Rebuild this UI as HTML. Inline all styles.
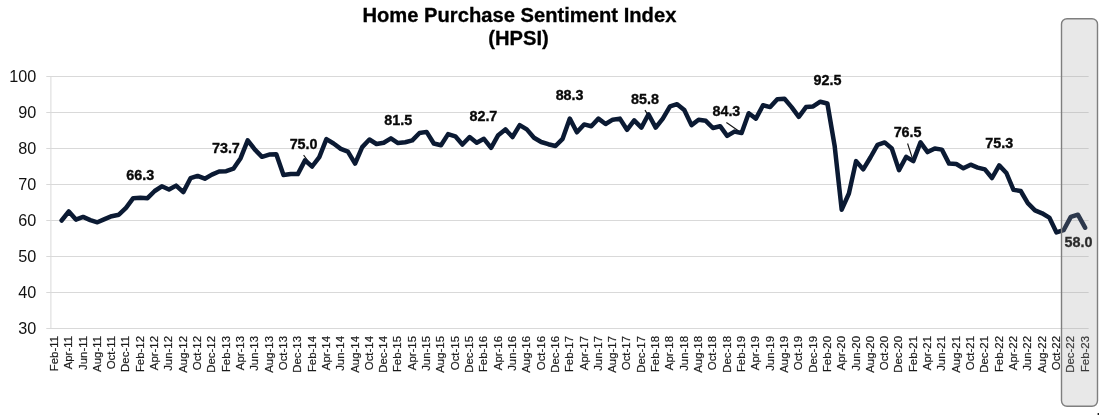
<!DOCTYPE html>
<html><head><meta charset="utf-8"><title>Home Purchase Sentiment Index (HPSI)</title>
<style>
html,body{margin:0;padding:0;background:#fff;}
body{width:1099px;height:415px;overflow:hidden;font-family:"Liberation Sans",Arial,sans-serif;}
svg{display:block}
svg text{font-family:"Liberation Sans",Arial,sans-serif;}
.grid line{stroke:#d9d9d9;stroke-width:1}
.ylab text{font-size:16.4px;fill:#111;text-anchor:end}
.xlab text{font-size:11.4px;fill:#1a1a1a;stroke:#1a1a1a;stroke-width:0.2;text-anchor:end}
.dl text{font-size:15.2px;font-weight:bold;fill:#0a0a0a;stroke:#0a0a0a;stroke-width:0.35;text-anchor:middle}
.lead line{stroke:#111;stroke-width:1.1}
.title text{font-size:20.7px;font-weight:bold;fill:#000;stroke:#000;stroke-width:0.3;text-anchor:middle}
</style></head><body>
<svg width="1099" height="415" viewBox="0 0 1099 415">
<rect width="1099" height="415" fill="#fff"/>
<g class="title"><text transform="translate(519.4,21.7) scale(0.975,1)">Home Purchase Sentiment Index</text><text transform="translate(518.5,44.9) scale(0.975,1)">(HPSI)</text></g>
<g class="grid"><line x1="46.3" x2="1088.6" y1="328.5" y2="328.5"/><line x1="46.3" x2="1088.6" y1="292.5" y2="292.5"/><line x1="46.3" x2="1088.6" y1="256.5" y2="256.5"/><line x1="46.3" x2="1088.6" y1="220.5" y2="220.5"/><line x1="46.3" x2="1088.6" y1="184.5" y2="184.5"/><line x1="46.3" x2="1088.6" y1="148.5" y2="148.5"/><line x1="46.3" x2="1088.6" y1="112.5" y2="112.5"/><line x1="46.3" x2="1088.6" y1="76.5" y2="76.5"/><line x1="50.9" x2="50.9" y1="76.5" y2="328.5"/></g>
<g class="ylab"><text transform="translate(36.3,333.8) scale(0.99,1)">30</text><text transform="translate(36.3,297.8) scale(0.99,1)">40</text><text transform="translate(36.3,261.8) scale(0.99,1)">50</text><text transform="translate(36.3,225.8) scale(0.99,1)">60</text><text transform="translate(36.3,189.8) scale(0.99,1)">70</text><text transform="translate(36.3,153.8) scale(0.99,1)">80</text><text transform="translate(36.3,117.8) scale(0.99,1)">90</text><text transform="translate(36.3,81.8) scale(0.99,1)">100</text></g>
<g class="xlab"><text transform="translate(57.9,336.0) rotate(-90)">Feb-11</text><text transform="translate(72.2,336.0) rotate(-90)">Apr-11</text><text transform="translate(86.5,336.0) rotate(-90)">Jun-11</text><text transform="translate(100.8,336.0) rotate(-90)">Aug-11</text><text transform="translate(115.1,336.0) rotate(-90)">Oct-11</text><text transform="translate(129.4,336.0) rotate(-90)">Dec-11</text><text transform="translate(143.8,336.0) rotate(-90)">Feb-12</text><text transform="translate(158.1,336.0) rotate(-90)">Apr-12</text><text transform="translate(172.4,336.0) rotate(-90)">Jun-12</text><text transform="translate(186.7,336.0) rotate(-90)">Aug-12</text><text transform="translate(201.0,336.0) rotate(-90)">Oct-12</text><text transform="translate(215.3,336.0) rotate(-90)">Dec-12</text><text transform="translate(229.6,336.0) rotate(-90)">Feb-13</text><text transform="translate(244.0,336.0) rotate(-90)">Apr-13</text><text transform="translate(258.3,336.0) rotate(-90)">Jun-13</text><text transform="translate(272.6,336.0) rotate(-90)">Aug-13</text><text transform="translate(286.9,336.0) rotate(-90)">Oct-13</text><text transform="translate(301.2,336.0) rotate(-90)">Dec-13</text><text transform="translate(315.5,336.0) rotate(-90)">Feb-14</text><text transform="translate(329.8,336.0) rotate(-90)">Apr-14</text><text transform="translate(344.2,336.0) rotate(-90)">Jun-14</text><text transform="translate(358.5,336.0) rotate(-90)">Aug-14</text><text transform="translate(372.8,336.0) rotate(-90)">Oct-14</text><text transform="translate(387.1,336.0) rotate(-90)">Dec-14</text><text transform="translate(401.4,336.0) rotate(-90)">Feb-15</text><text transform="translate(415.7,336.0) rotate(-90)">Apr-15</text><text transform="translate(430.0,336.0) rotate(-90)">Jun-15</text><text transform="translate(444.4,336.0) rotate(-90)">Aug-15</text><text transform="translate(458.7,336.0) rotate(-90)">Oct-15</text><text transform="translate(473.0,336.0) rotate(-90)">Dec-15</text><text transform="translate(487.3,336.0) rotate(-90)">Feb-16</text><text transform="translate(501.6,336.0) rotate(-90)">Apr-16</text><text transform="translate(515.9,336.0) rotate(-90)">Jun-16</text><text transform="translate(530.2,336.0) rotate(-90)">Aug-16</text><text transform="translate(544.6,336.0) rotate(-90)">Oct-16</text><text transform="translate(558.9,336.0) rotate(-90)">Dec-16</text><text transform="translate(573.2,336.0) rotate(-90)">Feb-17</text><text transform="translate(587.5,336.0) rotate(-90)">Apr-17</text><text transform="translate(601.8,336.0) rotate(-90)">Jun-17</text><text transform="translate(616.1,336.0) rotate(-90)">Aug-17</text><text transform="translate(630.4,336.0) rotate(-90)">Oct-17</text><text transform="translate(644.8,336.0) rotate(-90)">Dec-17</text><text transform="translate(659.1,336.0) rotate(-90)">Feb-18</text><text transform="translate(673.4,336.0) rotate(-90)">Apr-18</text><text transform="translate(687.7,336.0) rotate(-90)">Jun-18</text><text transform="translate(702.0,336.0) rotate(-90)">Aug-18</text><text transform="translate(716.3,336.0) rotate(-90)">Oct-18</text><text transform="translate(730.6,336.0) rotate(-90)">Dec-18</text><text transform="translate(745.0,336.0) rotate(-90)">Feb-19</text><text transform="translate(759.3,336.0) rotate(-90)">Apr-19</text><text transform="translate(773.6,336.0) rotate(-90)">Jun-19</text><text transform="translate(787.9,336.0) rotate(-90)">Aug-19</text><text transform="translate(802.2,336.0) rotate(-90)">Oct-19</text><text transform="translate(816.5,336.0) rotate(-90)">Dec-19</text><text transform="translate(830.8,336.0) rotate(-90)">Feb-20</text><text transform="translate(845.1,336.0) rotate(-90)">Apr-20</text><text transform="translate(859.5,336.0) rotate(-90)">Jun-20</text><text transform="translate(873.8,336.0) rotate(-90)">Aug-20</text><text transform="translate(888.1,336.0) rotate(-90)">Oct-20</text><text transform="translate(902.4,336.0) rotate(-90)">Dec-20</text><text transform="translate(916.7,336.0) rotate(-90)">Feb-21</text><text transform="translate(931.0,336.0) rotate(-90)">Apr-21</text><text transform="translate(945.3,336.0) rotate(-90)">Jun-21</text><text transform="translate(959.7,336.0) rotate(-90)">Aug-21</text><text transform="translate(974.0,336.0) rotate(-90)">Oct-21</text><text transform="translate(988.3,336.0) rotate(-90)">Dec-21</text><text transform="translate(1002.6,336.0) rotate(-90)">Feb-22</text><text transform="translate(1016.9,336.0) rotate(-90)">Apr-22</text><text transform="translate(1031.2,336.0) rotate(-90)">Jun-22</text><text transform="translate(1045.5,336.0) rotate(-90)">Aug-22</text><text transform="translate(1059.9,336.0) rotate(-90)">Oct-22</text><text transform="translate(1074.2,336.0) rotate(-90)">Dec-22</text><text transform="translate(1088.5,336.0) rotate(-90)">Feb-23</text></g>
<g class="lead"><line x1="303.6" y1="155.1" x2="312.1" y2="166.5"/><line x1="645.0" y1="110.1" x2="655.7" y2="127.6"/><line x1="726.4" y1="122.5" x2="741.6" y2="133.0"/><line x1="907.6" y1="143.5" x2="913.3" y2="161.1"/></g>
<polyline points="61.6,220.5 68.8,211.5 75.9,219.6 83.1,216.9 90.3,220.1 97.4,222.3 104.6,219.1 111.7,216.2 118.9,214.7 126.0,207.9 133.2,198.2 140.4,197.8 147.5,198.2 154.7,191.0 161.8,186.3 169.0,189.5 176.1,185.6 183.3,192.1 190.5,178.2 197.6,175.9 204.8,178.7 211.9,174.6 219.1,171.5 226.2,171.2 233.4,168.7 240.6,158.2 247.7,140.4 254.9,149.6 262.0,156.8 269.2,154.6 276.3,154.3 283.5,175.1 290.7,174.1 297.8,174.1 305.0,160.4 312.1,166.5 319.3,157.1 326.4,139.1 333.6,143.5 340.8,148.9 347.9,151.7 355.1,163.6 362.2,147.1 369.4,139.5 376.5,144.0 383.7,142.7 390.9,138.4 398.0,143.1 405.2,142.2 412.3,140.4 419.5,133.0 426.6,131.9 433.8,143.5 441.0,145.3 448.1,134.1 455.3,136.3 462.4,144.5 469.6,137.0 476.7,142.7 483.9,138.8 491.1,147.8 498.2,135.2 505.4,129.4 512.5,137.0 519.7,125.1 526.8,129.4 534.0,137.7 541.2,142.0 548.3,144.2 555.5,146.0 562.6,138.8 569.8,118.6 576.9,132.3 584.1,124.4 591.3,126.2 598.4,118.6 605.6,124.0 612.7,119.7 619.9,118.6 627.0,129.8 634.2,120.4 641.4,127.6 648.5,114.3 655.7,127.6 662.8,118.6 670.0,106.4 677.1,104.2 684.3,110.0 691.5,125.1 698.6,119.7 705.8,120.8 712.9,128.0 720.1,126.2 727.2,135.9 734.4,131.6 741.6,133.0 748.7,113.2 755.9,118.6 763.0,105.3 770.2,107.1 777.3,99.2 784.5,98.8 791.6,107.1 798.8,116.8 806.0,107.1 813.1,106.4 820.3,101.7 827.4,103.5 834.6,145.6 841.7,209.7 848.9,193.5 856.1,161.1 863.2,169.4 870.4,157.5 877.5,144.9 884.7,142.4 891.8,148.5 899.0,170.1 906.2,156.8 913.3,161.1 920.5,142.4 927.6,152.1 934.8,148.5 941.9,149.6 949.1,163.6 956.3,164.0 963.4,168.3 970.6,164.7 977.7,167.6 984.9,169.4 992.0,178.0 999.2,165.4 1006.4,173.0 1013.5,189.9 1020.7,191.0 1027.8,203.2 1035.0,210.4 1042.1,213.3 1049.3,217.6 1056.5,232.4 1063.6,230.2 1070.8,216.9 1077.9,214.7 1085.1,227.7" fill="none" stroke="#0b1a33" stroke-width="4.5" stroke-linejoin="round" stroke-linecap="round"/>
<g class="dl"><text transform="translate(140.2,180.0) scale(0.945,1)">66.3</text><text transform="translate(225.9,152.7) scale(0.945,1)">73.7</text><text transform="translate(303.6,148.6) scale(0.945,1)">75.0</text><text transform="translate(398.2,124.7) scale(0.945,1)">81.5</text><text transform="translate(483.4,120.8) scale(0.945,1)">82.7</text><text transform="translate(569.6,100.4) scale(0.945,1)">88.3</text><text transform="translate(645.0,103.6) scale(0.945,1)">85.8</text><text transform="translate(726.4,116.0) scale(0.945,1)">84.3</text><text transform="translate(827.5,85.4) scale(0.945,1)">92.5</text><text transform="translate(907.6,137.0) scale(0.945,1)">76.5</text><text transform="translate(999.2,147.5) scale(0.945,1)">75.3</text><text transform="translate(1078.5,246.8) scale(0.945,1)">58.0</text></g>
<rect x="1061.5" y="18.7" width="36" height="387.6" rx="5.5" ry="5.5" fill="#9c9c9c" fill-opacity="0.235" stroke="#7f7f7f" stroke-width="1.4"/>
<rect x="1097.6" y="413" width="1.4" height="2" fill="#222"/>
</svg>
</body></html>
